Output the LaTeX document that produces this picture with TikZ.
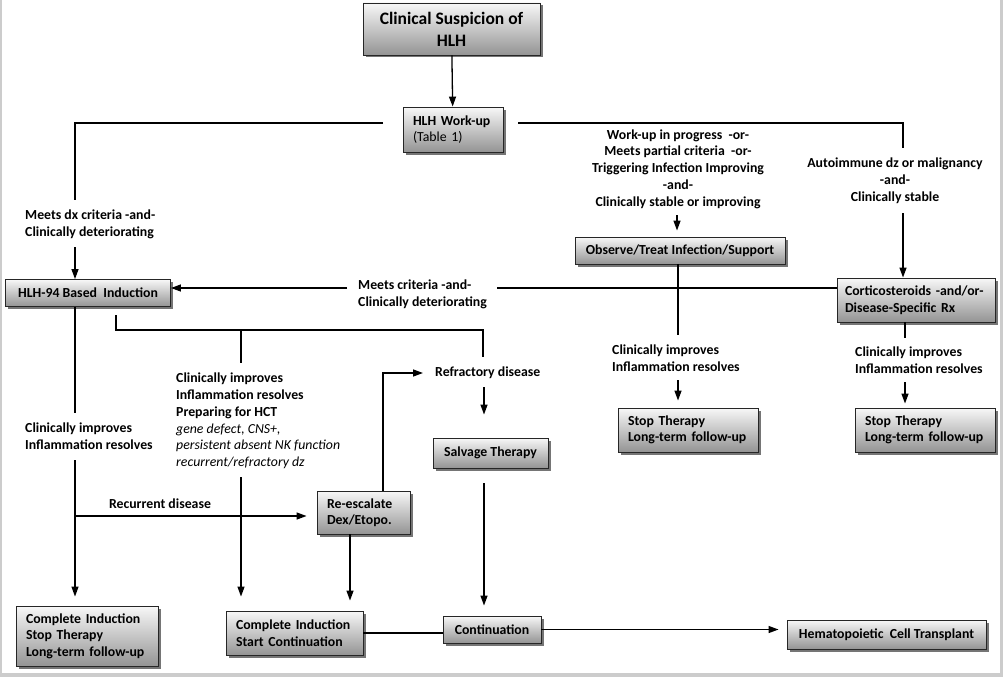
\documentclass[tikz,border=0pt]{standalone}
\usepackage{fontspec}
\setmainfont{Carlito}
\usetikzlibrary{arrows.meta,shadows,calc}
\begin{document}
\begin{tikzpicture}[x=1pt,y=-1pt,
  box/.style={draw=black!85, line width=0.9pt, top color=black!3, bottom color=black!42,
    drop shadow={shadow xshift=2.5pt,shadow yshift=-2.5pt,fill=black!60,opacity=0.9},
    font=\fontsize{13.8}{16.5}\selectfont\bfseries, inner sep=0pt, align=center},
  lbox/.style={box, align=left, inner xsep=8pt},
  lbl/.style={font=\fontsize{13.8}{16.8}\selectfont\bfseries, inner sep=0pt},
  ln/.style={line width=1.3pt},
  arr/.style={line width=1.3pt, -{Triangle[width=7pt,length=10pt]}}]
\fill[white] (0,0) rectangle (1003,677);
\useasboundingbox (0,0) rectangle (1003,677);
\fill[black!20] (0,0) rectangle (2,677);
\fill[black!20] (1000,0) rectangle (1003,677);
\fill[black!20] (0,673) rectangle (1003,677);

% boxes
\node[box, minimum width=177, minimum height=52, font=\fontsize{17.5}{22}\selectfont\bfseries] (sus) at (451.5,29) {Clinical Suspicion of\\HLH};
\node[lbox, inner xsep=10pt, text width=80, minimum height=45] (wu) at (453,129.5) {HLH Work-up\\\mdseries(Table 1)};
\node[box, minimum width=210, minimum height=27] (obs) at (680,250.5) {Observe/Treat Infection/Support};
\node[box, minimum width=165, minimum height=27] (h94) at (88,293) {HLH-94 Based\ \ Induction};
\node[lbox, text width=142, minimum height=44] (cort) at (916,300) {Corticosteroids -and/or-\\Disease-Specific Rx};
\node[lbox, inner xsep=10pt, text width=120, minimum height=44] (stop1) at (688,430) {Stop Therapy\\Long-term follow-up};
\node[lbox, inner xsep=10pt, text width=120, minimum height=44] (stop2) at (925,430) {Stop Therapy\\Long-term follow-up};
\node[box, minimum width=115, minimum height=30] (salv) at (490.5,453) {Salvage Therapy};
\node[lbox, inner xsep=10pt, text width=73, minimum height=43] (resc) at (363.5,512.5) {Re-escalate\\Dex/Etopo.};
\node[lbox, inner xsep=10pt, text width=122, minimum height=60] (cis) at (87,636) {Complete Induction\\Stop Therapy\\Long-term follow-up};
\node[lbox, inner xsep=10pt, text width=117, minimum height=44] (cisc) at (294.5,633) {Complete Induction\\Start Continuation};
\node[box, minimum width=98, minimum height=27] (cont) at (492,629.5) {Continuation};
\node[box, minimum width=199, minimum height=29] (hct) at (886.5,634.5) {Hematopoietic\ \ Cell Transplant};

% labels
\node[lbl, align=left, anchor=west] (ldx) at (25,224.5) {Meets dx criteria -and-\\Clinically deteriorating};
\node[lbl, align=center] (lauto) at (895,181) {Autoimmune dz or malignancy\\-and-\\Clinically stable};
\node[lbl, align=center] (lwip) at (678,169) {Work-up in progress\ \ -or-\\Meets partial criteria\ \ -or-\\Triggering Infection Improving\\-and-\\Clinically stable or improving};
\node[lbl, align=left, anchor=west] (lmc) at (358,294.5) {Meets criteria -and-\\Clinically deteriorating};
\node[lbl, align=left, anchor=west] (lci1) at (612,358) {Clinically improves\\Inflammation resolves};
\node[lbl, align=left, anchor=west] (lci2) at (855,360) {Clinically improves\\Inflammation resolves};
\node[lbl, align=left, anchor=west] (lci3) at (25,436.5) {Clinically improves\\Inflammation resolves};
\node[lbl] (lrec) at (160,504) {Recurrent disease};
\node[lbl, align=left, anchor=west] (lhct) at (176,421) {Clinically improves\\Inflammation resolves\\Preparing for HCT\\{\mdseries\itshape gene defect, CNS+,}\\{\mdseries\itshape persistent absent NK function}\\{\mdseries\itshape recurrent/refractory dz}};
\node[lbl, anchor=west] (rd) at (435,373) {Refractory disease};

% coordinates
\coordinate (wl) at (383,123);
\coordinate (wr) at (518,123);
\coordinate (a1) at (75,200);
\coordinate (a2) at (75,247);
\coordinate (b1) at (903,148);
\coordinate (b2) at (903,213);
\coordinate (c1) at (677,215);
\coordinate (d1) at (678,335);
\coordinate (d2) at (678,380);
\coordinate (e1) at (905,338);
\coordinate (e2) at (905,382);
\coordinate (f1) at (497,288);
\coordinate (f2) at (347,288);
\coordinate (g1) at (75,413);
\coordinate (g2) at (75,460);
\coordinate (g3) at (75,516);
\coordinate (h1) at (116,315);
\coordinate (h2) at (116,330);
\coordinate (h3) at (483,330);
\coordinate (h4) at (483,357);
\coordinate (h5) at (241,330);
\coordinate (h6) at (241,363);
\coordinate (h7) at (241,477);
\coordinate (r1) at (383,373);
\coordinate (r2) at (484,387);
\coordinate (s1) at (484,483);
\coordinate (q1) at (350,534);

% connectors
\draw[arr] (sus) -- (wu);
\draw[ln] (wl) -| (a1);
\draw[arr] (a2) -- (a2 |- h94.north);
\draw[ln] (wr) -| (b1);
\draw[arr] (b2) -- (b2 |- cort.north);
\draw[arr, shorten >=6pt] (c1) -- (c1 |- obs.north);
\draw[ln] (d1 |- obs.south) -- (d1);
\draw[arr, shorten >=7pt] (d2) -- (d2 |- stop1.north);
\draw[ln] (e1 |- cort.south) -- (e1);
\draw[arr, shorten >=4pt] (e2) -- (e2 |- stop2.north);
\draw[ln] (f1 -| cort.west) -- (f1);
\draw[arr] (f2) -- (f2 -| h94.east);
\draw[ln] (g1 |- h94.south) -- (g1);
\draw[arr, shorten >=9pt] (g2) -- (g2 |- cis.north);
\draw[arr, shorten >=10pt] (g3) -- (g3 -| resc.west);
\draw[ln] (h1) -- (h2) -- (h3) -- (h4);
\draw[ln] (h5) -- (h6);
\draw[arr, shorten >=14pt] (h7) -- (h7 |- cisc.north);
\draw[arr, shorten >=12pt] (r1 |- resc.north) -- (r1) -- (rd.west);
\draw[arr, shorten >=23pt] (r2) -- (r2 |- salv.north);
\draw[arr, shorten >=10pt] (s1) -- (s1 |- cont.north);
\draw[arr, shorten >=10pt] (q1 |- resc.south) -- (q1 |- cisc.north);
\draw[ln] (cisc.east) -- (cisc.east -| cont.west);
\draw[arr, shorten >=8pt] (cont.east) -- (cont.east -| hct.west);
\end{tikzpicture}
\end{document}
